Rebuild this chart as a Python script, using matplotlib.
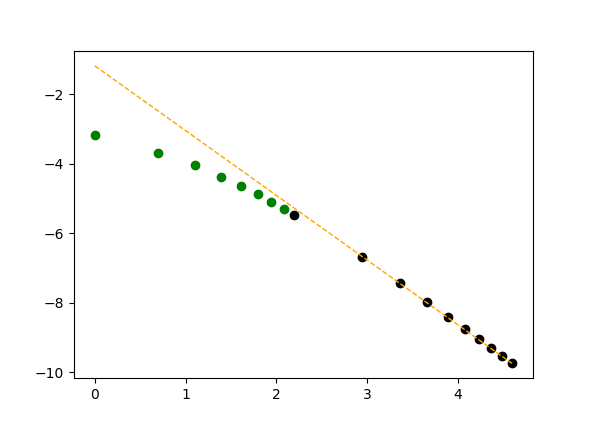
import matplotlib
matplotlib.use('Agg')
import matplotlib.pyplot as plt

# points (x looks like log of n)
green_x = [0.0, 0.693, 1.099, 1.386, 1.609, 1.792, 1.946, 2.079]
green_y = [-3.19, -3.68, -4.05, -4.37, -4.63, -4.86, -5.09, -5.29]

black_x = [2.197, 2.944, 3.367, 3.664, 3.892, 4.078, 4.234, 4.369, 4.489, 4.595]
black_y = [-5.47, -6.68, -7.43, -7.97, -8.42, -8.75, -9.04, -9.30, -9.53, -9.73]

# fitted line endpoints
fit_x = [0.0, 4.595]
fit_y = [-1.19, -9.74]

fig = plt.figure(figsize=(5.92, 4.25), dpi=100)
ax = fig.add_subplot(111)
ax.scatter(green_x, green_y, color='green')
ax.scatter(black_x, black_y, color='black')
ax.plot(fit_x, fit_y, linestyle='--', color='orange', linewidth=1.0)

fig.savefig('out.png', dpi=100)
